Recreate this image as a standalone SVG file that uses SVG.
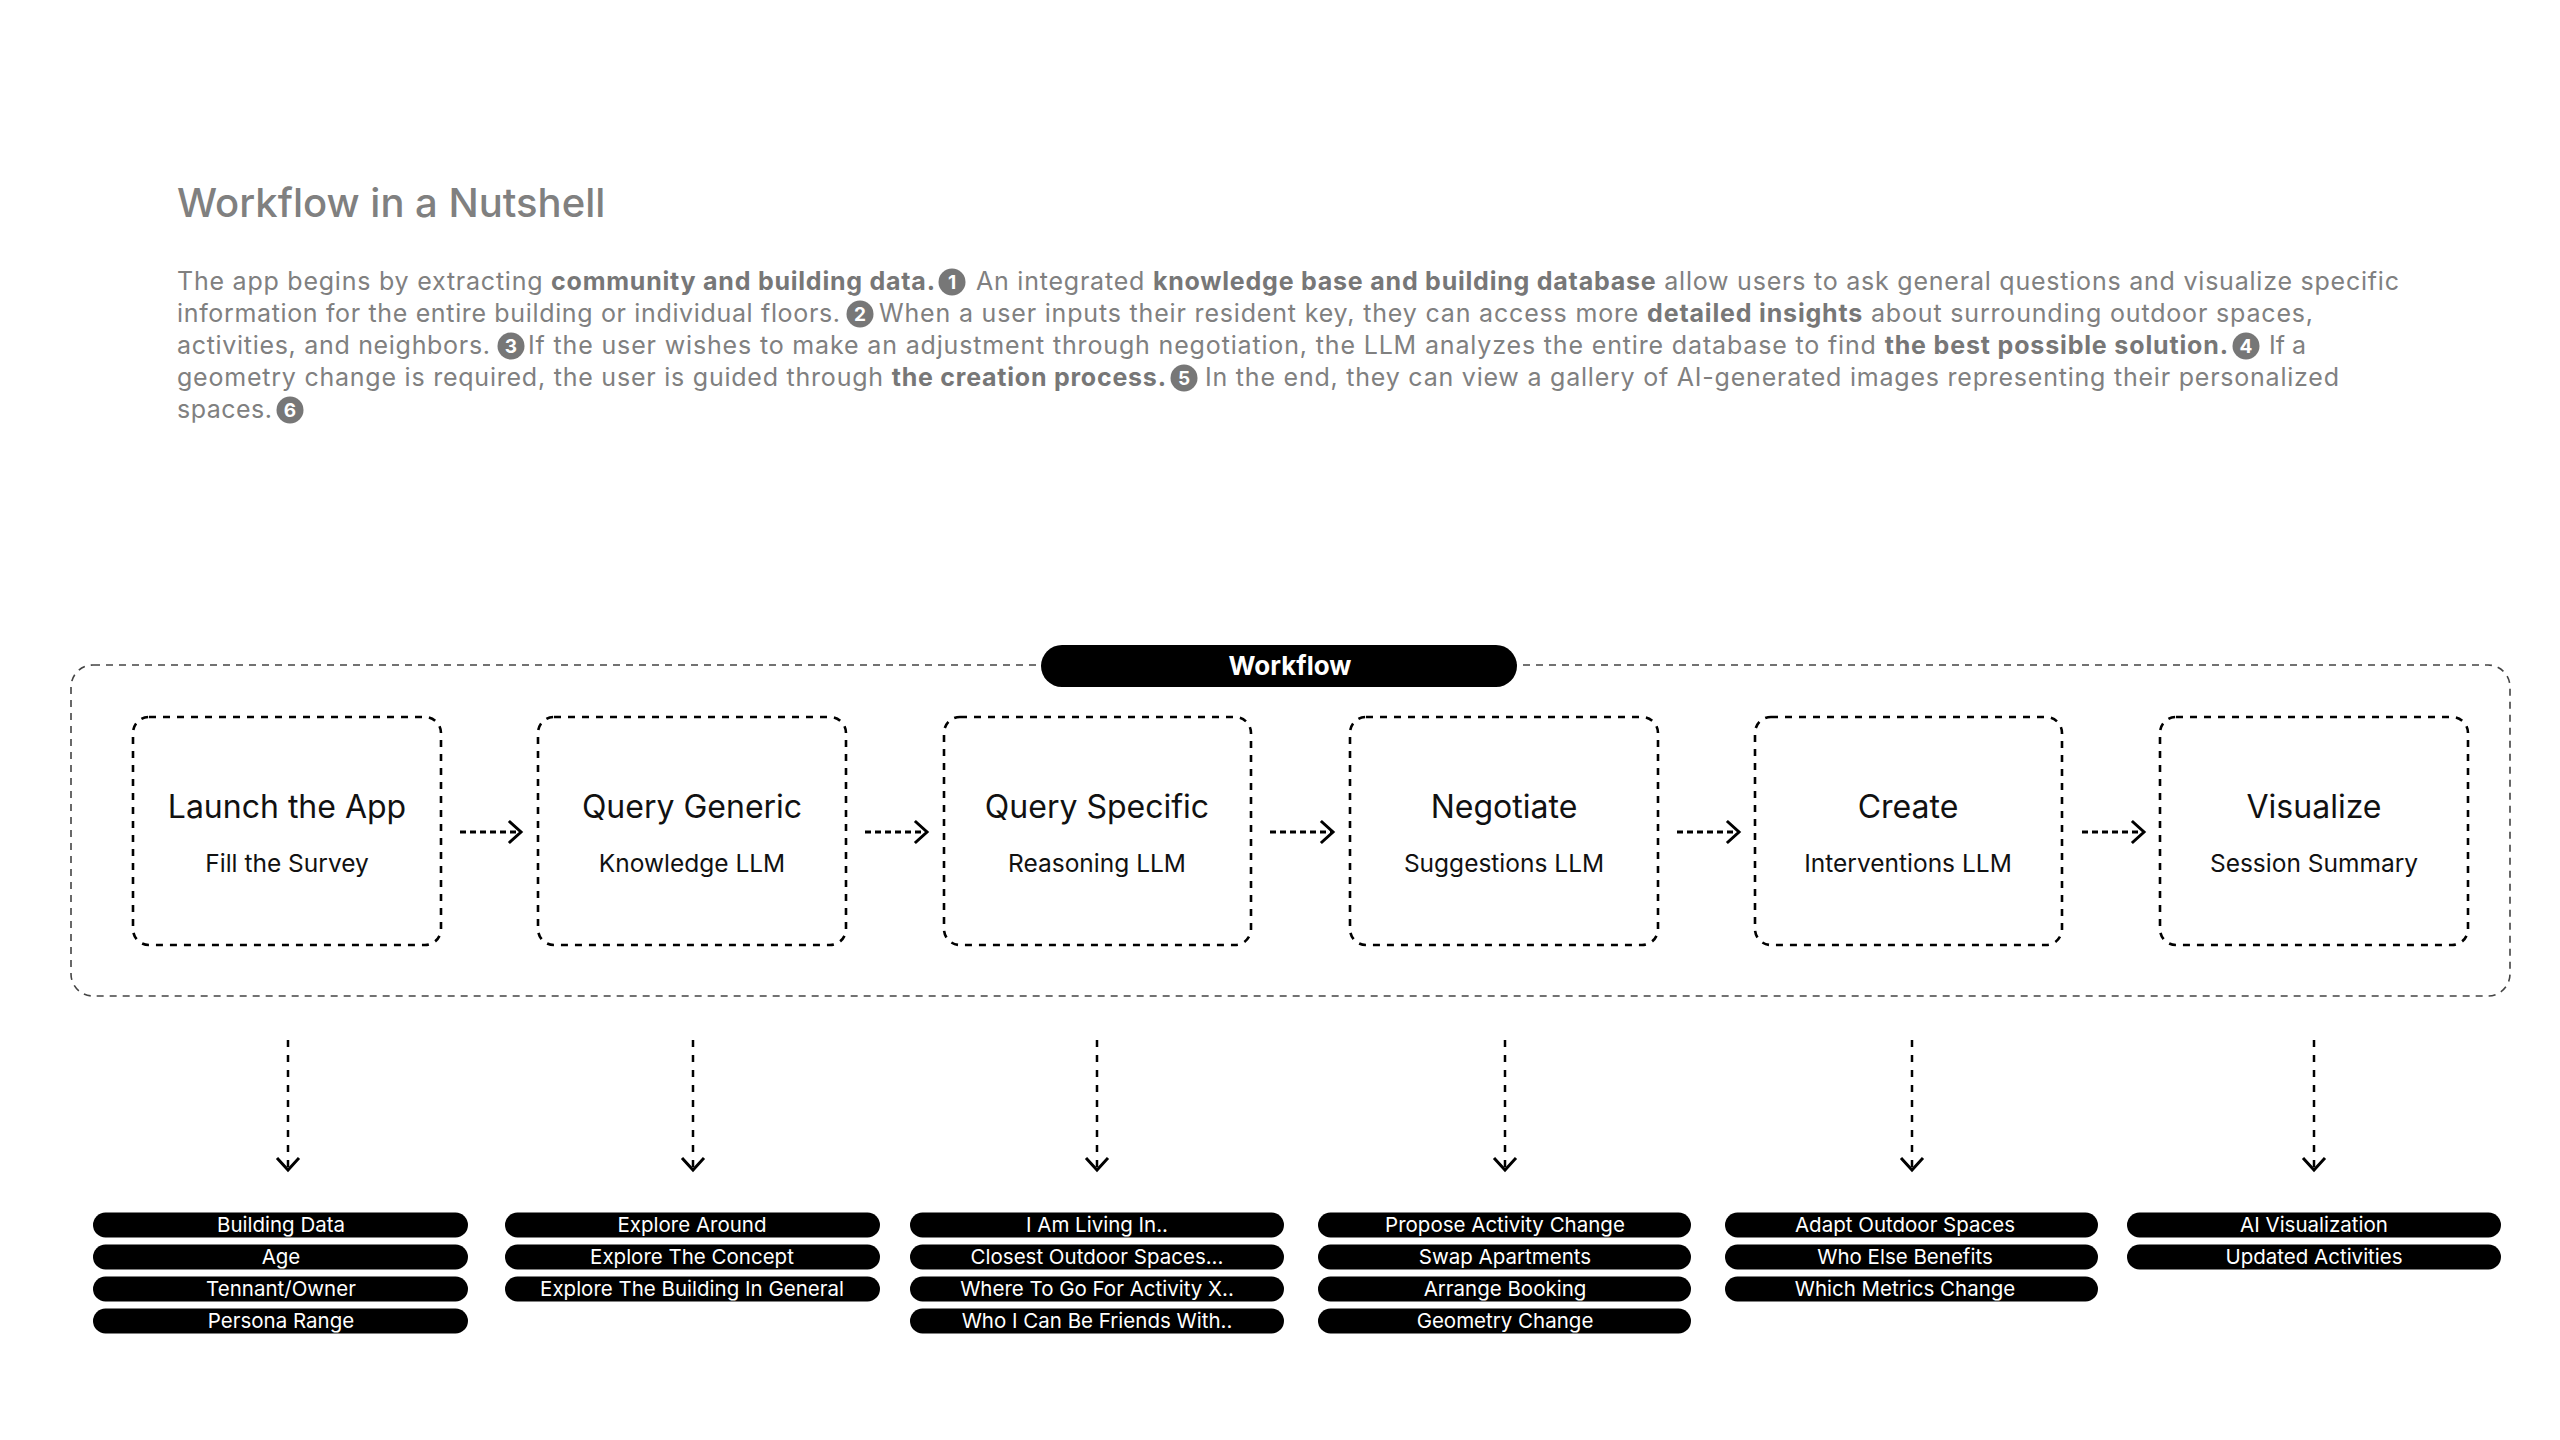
<svg xmlns="http://www.w3.org/2000/svg" width="2560" height="1440" viewBox="0 0 2560 1440">
<style>
.para{font-family:Inter,"Liberation Sans",sans-serif;font-size:25px;fill:#808080}
.b{font-weight:700;fill:#777}
.title{font-family:Inter,"Liberation Sans",sans-serif;font-size:40px;font-weight:500;fill:#808080}
.num circle{fill:#777}
.num text{font-family:Inter,"Liberation Sans",sans-serif;font-size:19px;font-weight:700;fill:#fff;text-anchor:middle}
.node rect{fill:#fff;stroke:#000;stroke-width:2.6;stroke-dasharray:7 7}
.nt{font-family:Inter,"Liberation Sans",sans-serif;font-size:32px;fill:#111;text-anchor:middle}
.ns{font-family:Inter,"Liberation Sans",sans-serif;font-size:24.5px;fill:#111;text-anchor:middle}
.outer{fill:none;stroke:#444;stroke-width:1.6;stroke-dasharray:7 6}
.hconn{fill:none;stroke:#000;stroke-width:3;stroke-dasharray:6 4;marker-end:url(#chev)}
.vconn{fill:none;stroke:#000;stroke-width:2.5;stroke-dasharray:7 8;marker-end:url(#chev)}
.pill rect{fill:#000}
.pill text{font-family:Inter,"Liberation Sans",sans-serif;font-size:20.5px;fill:#fff;text-anchor:middle}
.badge text{font-family:Inter,"Liberation Sans",sans-serif;font-size:26px;font-weight:700;fill:#fff;text-anchor:middle}
</style>
<defs>
<marker id="chev" markerUnits="userSpaceOnUse" markerWidth="30" markerHeight="30" viewBox="-15 -15 30 30" refX="0" refY="0" orient="auto" overflow="visible">
<path d="M-11,-10 L0,0 L-11,10" fill="none" stroke="#000" stroke-width="3" stroke-linecap="square"/>
</marker>
</defs>
<rect width="2560" height="1440" fill="#fff"/>

<g id="header">
<text class="title" x="177" y="217">Workflow in a Nutshell</text>
<text class="para" x="177" y="290" textLength="758" lengthAdjust="spacing">The app begins by extracting <tspan class="b">community and building data.</tspan></text>
<text class="para" x="976" y="290" textLength="1423" lengthAdjust="spacing">An integrated <tspan class="b">knowledge base and building database</tspan> allow users to ask general questions and visualize specific</text>
<text class="para" x="177" y="322" textLength="663" lengthAdjust="spacing">information for the entire building or individual floors.</text>
<text class="para" x="879" y="322" textLength="1434" lengthAdjust="spacing">When a user inputs their resident key, they can access more <tspan class="b">detailed insights</tspan> about surrounding outdoor spaces,</text>
<text class="para" x="177" y="354" textLength="313" lengthAdjust="spacing">activities, and neighbors.</text>
<text class="para" x="528" y="354" textLength="1700" lengthAdjust="spacing">If the user wishes to make an adjustment through negotiation, the LLM analyzes the entire database to find <tspan class="b">the best possible solution.</tspan></text>
<text class="para" x="2269" y="354">If a</text>
<text class="para" x="177" y="386" textLength="989" lengthAdjust="spacing">geometry change is required, the user is guided through <tspan class="b">the creation process.</tspan></text>
<text class="para" x="1205" y="386" textLength="1134" lengthAdjust="spacing">In the end, they can view a gallery of AI-generated images representing their personalized</text>
<text class="para" x="177" y="418" textLength="95" lengthAdjust="spacing">spaces.</text>
<g class="num">
<circle cx="952" cy="282" r="13.5"/><text x="952" y="289">1</text>
<circle cx="860" cy="314" r="13.5"/><text x="860" y="321">2</text>
<circle cx="511" cy="346" r="13.5"/><text x="511" y="353">3</text>
<circle cx="2246" cy="346" r="13.5"/><text x="2246" y="353">4</text>
<circle cx="1184" cy="378" r="13.5"/><text x="1184" y="385">5</text>
<circle cx="290" cy="410" r="13.5"/><text x="290" y="417">6</text>
</g>
</g>

<g id="workflow-frame">
<rect class="outer" x="71" y="665" width="2439" height="331" rx="22"/>
<g class="badge">
<rect x="1041" y="645" width="476" height="42" rx="21" fill="#000"/>
<text x="1290" y="675">Workflow</text>
</g>
</g>

<g id="connectors">
<path class="hconn" d="M460,832 H521"/>
<path class="hconn" d="M865,832 H927"/>
<path class="hconn" d="M1270,832 H1333"/>
<path class="hconn" d="M1677,832 H1739"/>
<path class="hconn" d="M2082,832 H2144"/>
<path class="vconn" d="M288,1040 V1170"/>
<path class="vconn" d="M693,1040 V1170"/>
<path class="vconn" d="M1097,1040 V1170"/>
<path class="vconn" d="M1505,1040 V1170"/>
<path class="vconn" d="M1912,1040 V1170"/>
<path class="vconn" d="M2314,1040 V1170"/>
</g>

<g id="node-launch" class="node">
<rect x="133" y="717" width="308" height="228" rx="16"/>
<text class="nt" x="287" y="818">Launch the App</text>
<text class="ns" x="287" y="872">Fill the Survey</text>
</g>
<g id="node-query-generic" class="node">
<rect x="538" y="717" width="308" height="228" rx="16"/>
<text class="nt" x="692" y="818">Query Generic</text>
<text class="ns" x="692" y="872">Knowledge LLM</text>
</g>
<g id="node-query-specific" class="node">
<rect x="944" y="717" width="307" height="228" rx="16"/>
<text class="nt" x="1097" y="818">Query Specific</text>
<text class="ns" x="1097" y="872">Reasoning LLM</text>
</g>
<g id="node-negotiate" class="node">
<rect x="1350" y="717" width="308" height="228" rx="16"/>
<text class="nt" x="1504" y="818">Negotiate</text>
<text class="ns" x="1504" y="872">Suggestions LLM</text>
</g>
<g id="node-create" class="node">
<rect x="1755" y="717" width="307" height="228" rx="16"/>
<text class="nt" x="1908" y="818">Create</text>
<text class="ns" x="1908" y="872">Interventions LLM</text>
</g>
<g id="node-visualize" class="node">
<rect x="2160" y="717" width="308" height="228" rx="16"/>
<text class="nt" x="2314" y="818">Visualize</text>
<text class="ns" x="2314" y="872">Session Summary</text>
</g>

<g id="list-launch" class="pill">
<rect x="93" y="1212.5" width="375" height="25" rx="12.5"/><text x="281" y="1232">Building Data</text>
<rect x="93" y="1244.5" width="375" height="25" rx="12.5"/><text x="281" y="1264">Age</text>
<rect x="93" y="1276.5" width="375" height="25" rx="12.5"/><text x="281" y="1296">Tennant/Owner</text>
<rect x="93" y="1308.5" width="375" height="25" rx="12.5"/><text x="281" y="1328">Persona Range</text>
</g>
<g id="list-query-generic" class="pill">
<rect x="505" y="1212.5" width="375" height="25" rx="12.5"/><text x="692" y="1232">Explore Around</text>
<rect x="505" y="1244.5" width="375" height="25" rx="12.5"/><text x="692" y="1264">Explore The Concept</text>
<rect x="505" y="1276.5" width="375" height="25" rx="12.5"/><text x="692" y="1296">Explore The Building In General</text>
</g>
<g id="list-query-specific" class="pill">
<rect x="910" y="1212.5" width="374" height="25" rx="12.5"/><text x="1097" y="1232">I Am Living In..</text>
<rect x="910" y="1244.5" width="374" height="25" rx="12.5"/><text x="1097" y="1264">Closest Outdoor Spaces...</text>
<rect x="910" y="1276.5" width="374" height="25" rx="12.5"/><text x="1097" y="1296">Where To Go For Activity X..</text>
<rect x="910" y="1308.5" width="374" height="25" rx="12.5"/><text x="1097" y="1328">Who I Can Be Friends With..</text>
</g>
<g id="list-negotiate" class="pill">
<rect x="1318" y="1212.5" width="373" height="25" rx="12.5"/><text x="1505" y="1232">Propose Activity Change</text>
<rect x="1318" y="1244.5" width="373" height="25" rx="12.5"/><text x="1505" y="1264">Swap Apartments</text>
<rect x="1318" y="1276.5" width="373" height="25" rx="12.5"/><text x="1505" y="1296">Arrange Booking</text>
<rect x="1318" y="1308.5" width="373" height="25" rx="12.5"/><text x="1505" y="1328">Geometry Change</text>
</g>
<g id="list-create" class="pill">
<rect x="1725" y="1212.5" width="373" height="25" rx="12.5"/><text x="1905" y="1232">Adapt Outdoor Spaces</text>
<rect x="1725" y="1244.5" width="373" height="25" rx="12.5"/><text x="1905" y="1264">Who Else Benefits</text>
<rect x="1725" y="1276.5" width="373" height="25" rx="12.5"/><text x="1905" y="1296">Which Metrics Change</text>
</g>
<g id="list-visualize" class="pill">
<rect x="2127" y="1212.5" width="374" height="25" rx="12.5"/><text x="2314" y="1232">AI Visualization</text>
<rect x="2127" y="1244.5" width="374" height="25" rx="12.5"/><text x="2314" y="1264">Updated Activities</text>
</g>
</svg>
